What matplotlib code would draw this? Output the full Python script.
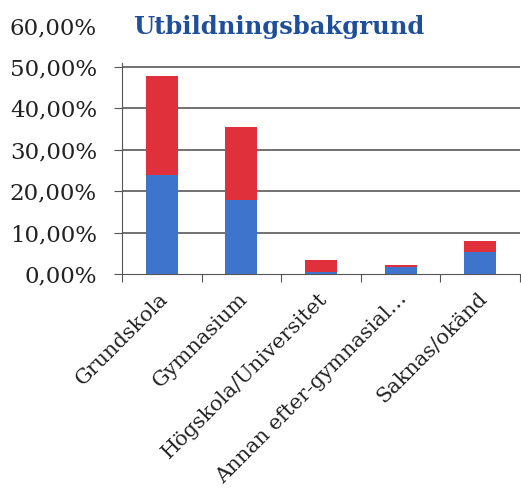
import numpy as np
import matplotlib
matplotlib.use('Agg')
from matplotlib import pyplot as plt

categories = ['Grundskola', 'Gymnasium', 'Högskola/Universitet',
              'Annan efter-gymnasial…', 'Saknas/okänd']
blue_vals = [23.9, 17.9, 0.6, 1.6, 5.2]
red_vals = [23.9, 17.7, 2.8, 0.6, 2.8]
ytick_vals = [0, 10, 20, 30, 40, 50, 60]
ytick_labels = ['0,00%', '10,00%', '20,00%', '30,00%', '40,00%', '50,00%', '60,00%']

plt.rcParams['font.family'] = ['DejaVu Serif']

fig = plt.figure(figsize=(5.21, 4.91), dpi=100)
ax = fig.add_axes([122 / 521, 1 - 274 / 491, 398 / 521, (274 - 25.6) / 491])

x = np.arange(len(categories))
ax.bar(x, blue_vals, width=0.4, color='#3F74CC', zorder=3)
ax.bar(x, red_vals, width=0.4, bottom=blue_vals, color='#DF303B', zorder=3)

ax.set_xlim(-0.5, len(categories) - 0.5)
ax.set_ylim(0, 60)
ax.set_yticks(ytick_vals)
ax.set_yticklabels(ytick_labels, fontsize=16.5, color='#222222')
# no tick mark at 60 %, only the label
ax.yaxis.get_major_ticks()[-1].tick1line.set_visible(False)
for v in ytick_vals[1:-1]:
    ax.axhline(v, color='#4a4a4a', lw=1.1, zorder=1)

ax.set_xticks(np.arange(-0.5, len(categories)))
ax.set_xticklabels([])
ax.tick_params(axis='x', length=6, direction='out', color='#555555')
ax.tick_params(axis='y', length=6, direction='out', color='#555555', pad=12)

for i, lab in enumerate(categories):
    ax.text(i - 0.04, -3.6, lab, rotation=45, ha='right', va='top',
            rotation_mode='anchor', fontsize=15, color='#222222')

for s in ['top', 'right']:
    ax.spines[s].set_visible(False)
ax.spines['left'].set_bounds(0, 51)
ax.spines['left'].set_color('#555555')
ax.spines['bottom'].set_color('#555555')

fig.text(279 / 521, 1 - 27 / 491, 'Utbildningsbakgrund', ha='center', va='center',
         fontsize=17.5, fontweight='bold', color='#1F4E9A')

plt.savefig('out.png', dpi=100)
